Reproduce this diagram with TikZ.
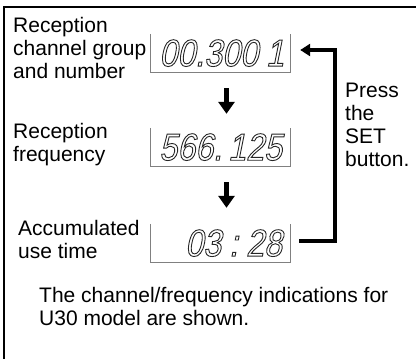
\documentclass[tikz,border=0pt]{standalone}
\usepackage{fontspec}
\setmainfont{Liberation Sans}
\newfontfamily\segfont[FakeSlant=0.2,FakeStretch=0.85]{Liberation Sans}
\usepackage{tikz}
\usetikzlibrary{arrows.meta,positioning}
\newcommand{\segdigits}[1]{\special{pdf:literal direct 1 Tr 0.9 w}#1\special{pdf:literal direct 0 Tr}}

\begin{document}
\begin{tikzpicture}[x=1pt, y=-1pt,
                    label text/.style={
                        anchor=north west,
                        inner sep=0pt,
                        align=left,
                        font=\fontsize{21}{23}\selectfont
                    },
                    display/.style={minimum width=139pt, minimum height=38pt, inner sep=0pt},
                    display frame/.style={draw=black!50, line width=0.9pt},
                    readout/.style={
                        anchor=base east,
                        inner sep=0pt,
                        text=black!85,
                        font=\segfont\fontsize{38}{38}\selectfont
                    },
                    step arrow/.style={line width=4.5pt, -{Triangle[width=16pt,length=12pt]}},
                    loop arrow/.style={line width=4pt, -{Triangle[width=12pt,length=10pt]}},
                    outer frame/.style={line width=2pt}
                ]
    \useasboundingbox (0,0) rectangle (416,359);
    \draw[outer frame] (4,359) -- (4,7) -- (416,7);

    \node[display] (d1) at (220.5,53) {};
    \node[display] (d2) at (220.5,147) {};
    \node[display] (d3) at (220.5,243) {};
    \foreach \d in {d1,d2,d3}
        \draw[display frame] (\d.north west) |- (\d.south east) -- (\d.north east);

    \node[readout] (r1) at ([xshift=-6pt,yshift=6pt]d1.south east) {\segdigits{00.300\kern8pt 1}};
    \node[readout] (r2) at ([xshift=-8pt,yshift=6pt]d2.south east) {\segdigits{566.\kern6pt 125}};
    \node[readout] (r3) at ([xshift=-8pt,yshift=6pt]d3.south east) {\segdigits{03\kern8pt:\kern8pt 28}};

    \node[label text] (lab1) at (13,17) {Reception\\channel group\\and number};
    \node[label text] (lab2) at (13,123) {Reception\\frequency};
    \node[label text] (lab3) at (18,220) {Accumulated\\use time};
    \node[label text] (press) at (345,83) {Press\\the\\SET\\button.};
    \node[label text] (note) at (39,287) {The channel/frequency indications for\\U30 model are shown.};

    \draw[step arrow] ([xshift=6pt,yshift=-16pt]d1.south) -- ([xshift=6pt,yshift=14pt]d2.north);
    \draw[step arrow] ([xshift=6pt,yshift=-16pt]d2.south) -- ([xshift=6pt,yshift=16pt]d3.north);

    \coordinate (turn) at (335,0);
    \draw[loop arrow] ([xshift=9pt,yshift=2pt]d3.east) -| ([yshift=3pt]turn |- d1.east) -- ([xshift=10pt,yshift=3pt]d1.east);
\end{tikzpicture}
\end{document}
